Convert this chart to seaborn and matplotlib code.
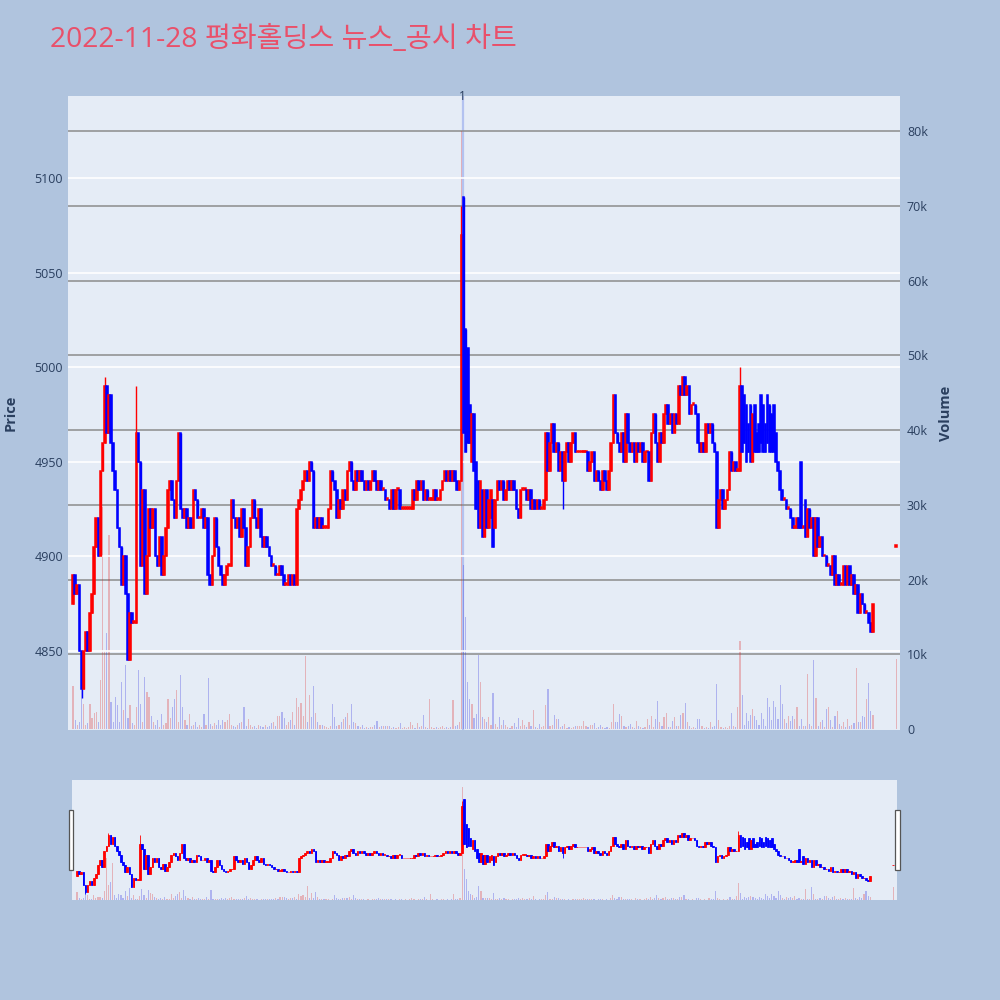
import matplotlib
matplotlib.use('Agg')
import matplotlib.pyplot as plt
from matplotlib.patches import Rectangle
from matplotlib.ticker import FuncFormatter
import seaborn as sns
import numpy as np
import pandas as pd

#%% data (1-minute candles, minutes after 09:00)
title = '2022-11-28 평화홀딩스 뉴스_공시 차트'
minutes = list(range(380)) + [390]
closes = [
    4890, 4880, 4885, 4850, 4830, 4850, 4860, 4850, 4870, 4880,
    4905, 4920, 4900, 4945, 4960, 4990, 4965, 4985, 4960, 4945,
    4935, 4915, 4905, 4885, 4900, 4880, 4845, 4870, 4865, 4865,
    4965, 4950, 4895, 4935, 4880, 4900, 4925, 4915, 4925, 4900,
    4895, 4910, 4890, 4900, 4915, 4935, 4940, 4930, 4920, 4940,
    4965, 4925, 4920, 4925, 4915, 4920, 4915, 4935, 4930, 4920,
    4920, 4925, 4915, 4920, 4890, 4885, 4900, 4920, 4905, 4895,
    4890, 4885, 4890, 4895, 4895, 4930, 4920, 4915, 4920, 4910,
    4925, 4915, 4895, 4905, 4920, 4930, 4920, 4915, 4925, 4910,
    4905, 4910, 4905, 4900, 4895, 4895, 4890, 4890, 4895, 4890,
    4885, 4885, 4890, 4885, 4890, 4885, 4925, 4930, 4935, 4940,
    4945, 4940, 4950, 4945, 4915, 4920, 4915, 4920, 4915, 4915,
    4915, 4925, 4945, 4940, 4935, 4920, 4930, 4925, 4935, 4930,
    4945, 4950, 4940, 4935, 4945, 4940, 4945, 4940, 4935, 4940,
    4935, 4940, 4945, 4940, 4935, 4940, 4935, 4935, 4930, 4930,
    4925, 4935, 4925, 4935, 4935, 4925, 4925, 4925, 4925, 4925,
    4925, 4935, 4930, 4940, 4935, 4940, 4930, 4935, 4930, 4930,
    4930, 4935, 4930, 4930, 4935, 4940, 4945, 4940, 4945, 4940,
    4945, 4940, 4935, 4940, 5070, 4965, 4955, 4960, 4960, 4975,
    4945, 4925, 4915, 4940, 4910, 4935, 4915, 4930, 4935, 4905,
    4930, 4940, 4935, 4940, 4930, 4935, 4940, 4935, 4940, 4935,
    4925, 4920, 4935, 4935, 4935, 4930, 4935, 4925, 4930, 4925,
    4930, 4925, 4925, 4930, 4965, 4945, 4960, 4970, 4955, 4960,
    4945, 4955, 4940, 4955, 4960, 4950, 4960, 4965, 4955, 4955,
    4955, 4955, 4955, 4955, 4945, 4950, 4955, 4940, 4945, 4940,
    4935, 4945, 4940, 4935, 4945, 4960, 4985, 4965, 4960, 4955,
    4965, 4950, 4975, 4960, 4955, 4960, 4950, 4960, 4955, 4960,
    4950, 4955, 4955, 4940, 4965, 4975, 4960, 4950, 4965, 4960,
    4975, 4980, 4970, 4975, 4965, 4975, 4970, 4990, 4985, 4995,
    4985, 4990, 4975, 4980, 4980, 4975, 4960, 4955, 4960, 4955,
    4970, 4965, 4970, 4960, 4955, 4915, 4930, 4935, 4925, 4930,
    4935, 4955, 4945, 4950, 4945, 4945, 4990, 4955, 4960, 4950,
    4955, 4950, 4975, 4955, 4955, 4955, 4960, 4955, 4955, 4960,
    4955, 4955, 4955, 4950, 4945, 4935, 4930, 4930, 4925, 4925,
    4920, 4915, 4915, 4920, 4915, 4915, 4915, 4910, 4925, 4915,
    4920, 4900, 4920, 4905, 4910, 4900, 4900, 4895, 4895, 4890,
    4900, 4885, 4890, 4885, 4885, 4895, 4885, 4895, 4885, 4890,
    4880, 4885, 4870, 4880, 4875, 4870, 4870, 4865, 4860, 4875,
    4905,
]
# opens that differ from the previous close
open_gaps = {0: 4875, 185: 5090, 186: 5020, 187: 5010, 188: 4980, 189: 4950,
             191: 4950, 192: 4940, 194: 4935, 198: 4920, 199: 4930, 200: 4915,
             317: 4990, 318: 4985, 319: 4980, 320: 4970, 321: 4980, 323: 4980,
             324: 4965, 325: 4970, 326: 4985, 327: 4980, 328: 4970, 329: 4985,
             330: 4980, 331: 4975, 332: 4980, 333: 4965, 345: 4950, 347: 4930,
             390: 4905}
wick_high = {15: 4995, 30: 4990, 184: 5085, 316: 5000}
wick_low = {4: 4825, 232: 4925}
volume_k = [
    5.8, 1.2, 0.5, 1.0, 5.5, 3.4, 0.5, 0.8, 3.4, 1.5,
    2.2, 2.3, 1.0, 6.5, 29.7, 10.5, 12.8, 26.0, 3.6, 1.0,
    4.3, 3.2, 1.0, 6.3, 2.6, 8.6, 1.5, 3.2, 0.8, 0.5,
    3.0, 7.9, 3.3, 1.0, 7.0, 5.0, 4.3, 1.8, 1.0, 0.5,
    1.2, 0.3, 2.0, 0.5, 0.8, 4.0, 1.5, 3.0, 4.0, 5.2,
    1.0, 7.2, 3.0, 1.2, 0.5, 2.0, 0.4, 0.6, 1.0, 0.3,
    0.5, 0.3, 2.0, 0.5, 6.8, 0.7, 0.4, 0.8, 0.5, 1.2,
    0.6, 1.2, 0.9, 1.2, 2.0, 0.5, 0.4, 0.3, 0.6, 0.8,
    1.0, 3.0, 0.4, 1.3, 0.5, 0.3, 0.4, 0.2, 0.5, 0.4,
    0.3, 0.5, 0.3, 0.4, 0.8, 1.0, 0.4, 1.7, 1.7, 2.3,
    1.5, 0.6, 1.0, 1.2, 2.3, 0.6, 4.1, 3.0, 3.5, 1.7,
    9.8, 1.0, 4.5, 1.6, 5.8, 2.2, 0.9, 0.5, 0.5, 0.4,
    0.3, 0.2, 0.4, 3.3, 1.6, 0.4, 0.5, 1.0, 1.3, 1.6,
    2.2, 0.6, 3.3, 1.0, 0.8, 0.4, 0.3, 0.5, 0.2, 0.3,
    0.2, 0.3, 0.3, 0.5, 1.1, 0.3, 0.4, 0.4, 0.4, 0.4,
    0.4, 0.2, 0.3, 0.2, 0.3, 0.8, 0.2, 0.3, 0.2, 0.3,
    1.0, 0.5, 0.2, 0.8, 0.3, 0.4, 1.9, 0.3, 0.2, 4.0,
    0.3, 0.2, 0.3, 0.2, 0.3, 0.4, 0.2, 0.3, 0.2, 0.3,
    3.9, 0.4, 0.5, 1.0, 80.0, 22.0, 15.0, 6.3, 4.0, 3.4,
    1.5, 2.0, 9.9, 6.3, 1.6, 1.3, 1.0, 1.6, 0.5, 4.8,
    0.7, 0.3, 1.6, 0.5, 1.2, 0.5, 0.3, 0.2, 0.4, 0.8,
    0.3, 1.5, 0.4, 1.2, 0.5, 0.3, 1.0, 0.4, 2.5, 0.3,
    0.2, 0.7, 0.3, 0.4, 3.2, 5.3, 0.4, 0.5, 1.9, 1.3,
    1.3, 0.3, 0.4, 0.7, 0.2, 0.3, 0.2, 0.3, 0.4, 0.4,
    0.4, 0.4, 1.1, 0.4, 0.3, 0.5, 0.5, 0.8, 0.2, 0.3,
    0.5, 0.3, 0.2, 0.3, 0.2, 1.0, 3.3, 1.0, 0.9, 2.0,
    1.7, 0.4, 0.3, 0.4, 0.7, 0.3, 0.2, 1.1, 0.4, 0.3,
    0.2, 0.3, 1.4, 0.5, 1.8, 0.3, 1.4, 3.7, 1.0, 0.4,
    1.6, 2.1, 0.3, 0.3, 1.1, 1.6, 0.4, 0.4, 1.9, 2.2,
    3.5, 0.9, 0.4, 0.2, 0.3, 0.2, 1.3, 1.3, 0.4, 0.2,
    0.3, 0.2, 1.0, 0.3, 0.4, 6.0, 1.2, 0.3, 0.2, 0.3,
    0.2, 0.4, 2.2, 0.4, 0.3, 2.9, 11.8, 4.5, 0.5, 2.2,
    1.1, 1.9, 2.7, 1.8, 1.2, 0.5, 2.2, 1.4, 0.4, 4.2,
    2.9, 1.2, 3.8, 2.9, 1.3, 5.9, 3.4, 1.3, 0.8, 1.7,
    1.1, 1.8, 1.4, 3.0, 0.4, 1.3, 0.4, 0.4, 7.3, 0.7,
    0.4, 9.2, 4.1, 0.4, 0.9, 1.2, 0.3, 2.7, 2.9, 1.2,
    0.3, 1.7, 2.4, 0.7, 0.4, 1.0, 0.3, 1.3, 0.4, 0.5,
    0.8, 8.2, 1.0, 0.9, 1.7, 1.6, 4.0, 6.1, 2.4, 1.9,
    9.4,
]
tick_minutes = [0, 60, 120, 180, 240, 300, 360]
tick_labels = ['09:00\nNov 28, 2022', '10:00', '11:00', '12:00', '13:00', '14:00', '15:00']
price_ticks = [4850, 4900, 4950, 5000, 5050, 5100]
volume_ticks = [0, 10, 20, 30, 40, 50, 60, 70, 80]
news_minute = 184.6
news_label = '1'

#%% build the candle table
df = pd.DataFrame({'minute': minutes, 'close': closes, 'volume': volume_k})
df['open'] = df['close'].shift(1)
for m, o in open_gaps.items():
    df.loc[df['minute'] == m, 'open'] = o
df['high'] = df[['open', 'close']].max(axis=1)
df['low'] = df[['open', 'close']].min(axis=1)
for m, h in wick_high.items():
    df.loc[df['minute'] == m, 'high'] = h
for m, l in wick_low.items():
    df.loc[df['minute'] == m, 'low'] = l
prev = df['close'].shift(1).fillna(df['open'])
up = (df['close'] > df['open']) | ((df['close'] == df['open']) & (df['close'] >= prev))
df['dir'] = np.where(up, 'up', 'down')

RED, BLUE = '#ff0000', '#0000ff'
palette = {'up': RED, 'down': BLUE}
BG, PLOT_BG, TXT = '#b0c4de', '#e5ecf6', '#2a3f5f'

sns.set_theme(style='white')
plt.rcParams['font.family'] = ['Open Sans', 'DejaVu Sans']

fig = plt.figure(figsize=(10, 10), dpi=100, facecolor=BG)

XLIM = (-2.4, 391.8)
PLIM = (4808.2, 5143.3)
VLIM = (-0.13, 84.7)


def draw(ax, axv, body_lw, wick_lw, body_w, bar_w):
    axv.patch.set_visible(True)
    axv.set_facecolor(PLOT_BG)
    ax.patch.set_visible(False)
    ax.set_zorder(axv.get_zorder() + 1)
    sns.barplot(data=df, x='minute', y='volume', hue='dir', palette=palette,
                native_scale=True, dodge=False, errorbar=None, width=bar_w,
                alpha=0.28, legend=False, ax=axv, linewidth=0)
    colors = df['dir'].map(palette)
    heights = (df['close'] - df['open']).abs().clip(lower=0.9)
    bottoms = df[['open', 'close']].min(axis=1)
    ax.vlines(df['minute'], df['low'], df['high'], colors=colors, lw=wick_lw, zorder=3)
    ax.bar(df['minute'], heights, bottom=bottoms, width=body_w, color=colors,
           edgecolor=colors, linewidth=body_lw, zorder=4)
    for a in (ax, axv):
        a.set_xlim(*XLIM)
        for s in a.spines.values():
            s.set_visible(False)
    ax.set_ylim(*PLIM)
    axv.set_ylim(*VLIM)
    ax.set_xlabel('')
    axv.set_xlabel('')
    ax.set_ylabel('')
    axv.set_ylabel('')


#%% main chart
ax = fig.add_axes([0.068, 0.270, 0.832, 0.634])
axv = ax.twinx()
draw(ax, axv, 1.1, 1.0, 0.75, 0.55)
axv.axvline(news_minute, color='#a3b5ee', lw=1.6, alpha=0.75, zorder=0)

ax.set_yticks(price_ticks)
ax.grid(axis='y', color='white', lw=1.2)
ax.grid(axis='x', visible=False)
ax.set_axisbelow(True)
ax.set_xticks(tick_minutes)
ax.set_xticklabels(tick_labels, linespacing=1.25)
ax.tick_params(axis='both', length=0, labelsize=9, labelcolor=TXT)
ax.tick_params(axis='x', pad=7)

axv.set_yticks(volume_ticks)
axv.yaxis.set_major_formatter(FuncFormatter(lambda v, p: '0' if v == 0 else f'{int(v)}k'))
axv.grid(axis='y', color='#8c8c8c', lw=1.1)
axv.grid(axis='x', visible=False)
axv.get_ygridlines()[0].set_visible(False)
axv.set_axisbelow(True)
axv.tick_params(axis='y', length=0, labelsize=9, labelcolor=TXT, pad=5)
axv.set_xticks([])

ax.text(news_minute, PLIM[1], news_label, ha='center', va='center', fontsize=8.5, color=TXT,
        clip_on=False)

fig.text(0.011, 0.587, 'Price', rotation=90, ha='center', va='center',
         fontsize=10.5, fontweight='bold', color=TXT)
fig.text(0.946, 0.587, 'Volume', rotation=90, ha='center', va='center',
         fontsize=10.5, fontweight='bold', color=TXT)
fig.text(0.050, 0.960, title, ha='left', va='center', fontsize=20.3, color='#e9506a',
         family=['Open Sans', 'Noto Sans CJK KR', 'DejaVu Sans'])

#%% range slider
axs = fig.add_axes([0.072, 0.100, 0.825, 0.120])
axsv = axs.twinx()
draw(axs, axsv, 0.6, 0.6, 0.75, 0.55)
for a in (axs, axsv):
    a.set_xticks([])
    a.set_yticks([])
    a.grid(False)
for hx in (0.0685, 0.8950):
    fig.patches.append(Rectangle((hx, 0.130), 0.0045, 0.060, transform=fig.transFigure,
                                 facecolor='white', edgecolor='#555555', lw=0.9, zorder=10))

fig.savefig('out.png', dpi=100, facecolor=BG)
